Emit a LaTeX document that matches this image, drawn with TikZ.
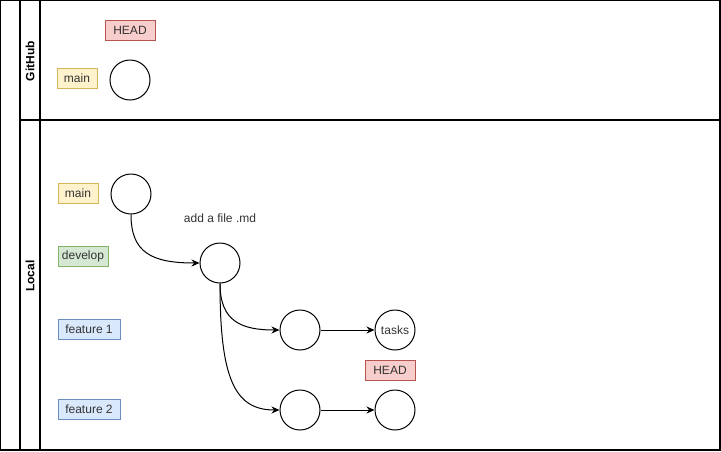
\documentclass[tikz,border=0pt]{standalone}
\usepackage{fontspec}
\setmainfont{Liberation Sans}
\usetikzlibrary{arrows.meta}
\begin{document}
\begin{tikzpicture}[x=1pt,y=-1pt,
  lane/.style={line width=1.3pt},
  commit/.style={circle,draw,line width=1pt,minimum size=40pt,inner sep=0pt,font=\fontsize{12}{14}\selectfont,text=black!80},
  tag/.style={rectangle,draw,line width=1pt,minimum height=20pt,inner sep=3pt,font=\fontsize{12}{14}\selectfont,text=black!80},
  tagyellow/.style={tag,fill={rgb,255:red,255;green,242;blue,204},draw={rgb,255:red,214;green,182;blue,86}},
  taggreen/.style={tag,fill={rgb,255:red,213;green,232;blue,212},draw={rgb,255:red,130;green,179;blue,102}},
  tagblue/.style={tag,fill={rgb,255:red,218;green,232;blue,252},draw={rgb,255:red,108;green,142;blue,191}},
  tagred/.style={tag,fill={rgb,255:red,248;green,206;blue,204},draw={rgb,255:red,184;green,84;blue,80}},
  link/.style={line width=1pt,-{Stealth[length=8pt,width=7pt]}},
  lanetitle/.style={rotate=90,font=\bfseries\fontsize{12}{14}\selectfont}
]
\useasboundingbox (0,0) rectangle (721,451);
% swimlanes
\draw[lane] (0.65,0.65) rectangle (720,450);
\draw[lane] (20,0.65) -- (20,450);
\draw[lane] (40,0.65) -- (40,450);
\draw[lane] (20,120) -- (720,120);
\node[lanetitle] (gh) at (30,61) {GitHub};
\node[lanetitle] (loc) at (30,276) {Local};
% GitHub lane
\node[tagred,minimum width=50pt] (headgh) at (130,30) {HEAD};
\node[tagyellow,minimum width=40pt] (maingh) at (77,78) {main};
\node[commit] (cgh) at (130,80) {};
% Local lane
\node[tagyellow,minimum width=40pt] (mainl) at (78,193.5) {main};
\node[commit] (cm) at (131,194) {};
\node[font=\fontsize{12}{14}\selectfont,text=black!80] (msg) at (220,218) {add a file .md};
\node[taggreen,minimum width=50pt] (dev) at (83,256) {develop};
\node[commit] (cd) at (220,263) {};
\node[tagblue,minimum width=62pt] (f1) at (89,329) {feature 1};
\node[commit] (c1) at (300,330) {};
\node[commit] (ct) at (395,330) {tasks};
\node[tagred,minimum width=50pt] (headl) at (390,370) {HEAD};
\node[tagblue,minimum width=62pt] (f2) at (89,409.5) {feature 2};
\node[commit] (c2) at (300,410) {};
\node[commit] (c3) at (395,410) {};
% connectors
\draw[link] (cm.south) .. controls +(0,38) and +(-48,0) .. (cd.west);
\draw[link] (cd.south) .. controls +(0,38) and +(-38,0) .. (c1.west);
\draw[link] (cd.south) .. controls +(0,95) and +(-45,0) .. (c2.west);
\draw[link] (c1) -- (ct);
\draw[link] (c2) -- (c3);
\end{tikzpicture}
\end{document}
